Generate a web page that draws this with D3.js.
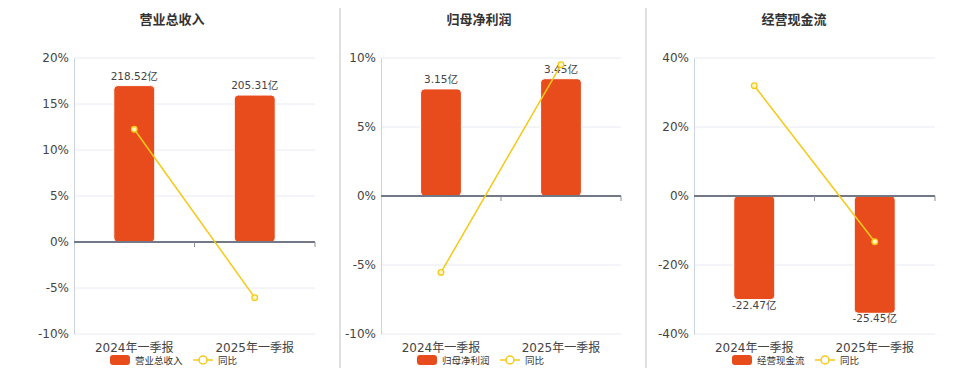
<!DOCTYPE html>
<html>
<head>
<meta charset="utf-8">
<script src="https://cdn.jsdelivr.net/npm/d3@7"></script>
<style>
  body { margin: 0; background: #fff; }
  svg { display: block; font-family: "DejaVu Sans", "Noto Sans CJK SC", sans-serif; }
</style>
</head>
<body>
<svg id="chart"></svg>
<script>
// categories shared by the three small charts
const categories = ["2024年一季报", "2025年一季报"];

// panel titles (also used as legend names)
const titles = ["营业总收入", "归母净利润", "经营现金流"];

// bar values, 亿元
const revenue = [218.52, 205.31];
const netProfit = [3.15, 3.45];
const cashFlow = [-22.47, -25.45];

// year-on-year growth, %
const revenueYoY = [12.25, -6.05];
const netProfitYoY = [-5.54, 9.51];
const cashFlowYoY = [31.97, -13.25];

// y axis tick values, %
const revenueTicks = [-10, -5, 0, 5, 10, 15, 20];
const netProfitTicks = [-10, -5, 0, 5, 10];
const cashFlowTicks = [-40, -20, 0, 20, 40];

const width = 960;
const height = 372;
const plotTop = 58;
const plotBottom = 334;

const barColor = "#e84c1d";
const lineColor = "#f5c917";

const svg = d3.select("#chart")
              .attr("width", width)
              .attr("height", height);

// panel layout: plot left/right and centre for title + legend
const panels = [
  { title: titles[0], bars: revenue, yoy: revenueYoY, ticks: revenueTicks, left: 74, right: 315, cx: 172 },
  { title: titles[1], bars: netProfit, yoy: netProfitYoY, ticks: netProfitTicks, left: 381, right: 621, cx: 479 },
  { title: titles[2], bars: cashFlow, yoy: cashFlowYoY, ticks: cashFlowTicks, left: 694, right: 935, cx: 794 }
];

// vertical separators between panels
[340, 646].forEach(x => {
  svg.append("line")
     .attr("x1", x).attr("x2", x)
     .attr("y1", 8).attr("y2", 368)
     .attr("stroke", "#d6d6d6")
     .attr("stroke-width", 1.5);
});

panels.forEach(p => {
  const g = svg.append("g");

  // percent scale for the yoy line and the axis
  const yScale = d3.scaleLinear()
                   .domain(d3.extent(p.ticks))
                   .range([plotBottom, plotTop]);
  const zeroY = yScale(0);

  // band scale for categories
  const xScale = d3.scaleBand()
                   .domain(categories)
                   .range([p.left, p.right]);
  const bw = xScale.bandwidth();
  const barW = bw * 0.34;
  const cx = d => xScale(d) + bw / 2;

  // hidden amount scale: largest bar fills 85% of its half of the plot
  const maxAbs = d3.max(p.bars, d => Math.abs(d));
  const positive = d3.max(p.bars) > 0;
  const barScale = d3.scaleLinear()
                     .domain([0, maxAbs / 0.85])
                     .range([zeroY, positive ? plotTop : plotBottom]);
  const barY = v => barScale(Math.abs(v));

  // title
  g.append("text")
   .attr("x", p.cx)
   .attr("y", 24)
   .attr("text-anchor", "middle")
   .attr("font-size", 13)
   .attr("font-weight", "bold")
   .attr("fill", "#333")
   .text(p.title);

  // gridlines
  g.selectAll(".grid")
   .data(p.ticks.filter(t => t !== 0))
   .enter()
   .append("line")
   .attr("x1", p.left).attr("x2", p.right)
   .attr("y1", d => yScale(d)).attr("y2", d => yScale(d))
   .attr("stroke", "#e6eaf3")
   .attr("stroke-width", 1);

  // y axis
  const yAxis = d3.axisLeft(yScale)
                  .tickValues(p.ticks)
                  .tickSize(0)
                  .tickPadding(5)
                  .tickFormat(d => d + "%");
  const ya = g.append("g")
              .attr("transform", `translate(${p.left}, 0)`)
              .call(yAxis);
  ya.select(".domain").attr("stroke", "#ccd3e3");
  ya.selectAll("text")
    .attr("font-size", 12)
    .attr("font-family", "DejaVu Sans, sans-serif")
    .attr("fill", "#444");

  // bars
  g.selectAll(".bar")
   .data(p.bars)
   .enter()
   .append("rect")
   .attr("x", (d, i) => cx(categories[i]) - barW / 2)
   .attr("y", d => d >= 0 ? barY(d) : zeroY)
   .attr("width", barW)
   .attr("height", d => Math.abs(barY(d) - zeroY))
   .attr("rx", 4)
   .attr("fill", barColor)
   .attr("stroke", "#fff")
   .attr("stroke-width", 1);

  // bar labels
  g.selectAll(".label")
   .data(p.bars)
   .enter()
   .append("text")
   .attr("x", (d, i) => cx(categories[i]))
   .attr("y", d => d >= 0 ? barY(d) - 6 : barY(d) + 9)
   .attr("text-anchor", "middle")
   .attr("font-size", 10.5)
   .attr("fill", "#444")
   .text(d => d.toFixed(2) + "亿");

  // zero axis with category ticks
  g.append("line")
   .attr("x1", p.left).attr("x2", p.right)
   .attr("y1", zeroY).attr("y2", zeroY)
   .attr("stroke", "#737886")
   .attr("stroke-width", 2);
  [p.left + bw, p.right].forEach(x => {
    g.append("line")
     .attr("x1", x).attr("x2", x)
     .attr("y1", zeroY).attr("y2", zeroY + 5)
     .attr("stroke", "#8a8f9c")
     .attr("stroke-width", 1);
  });

  // category labels
  g.selectAll(".cat")
   .data(categories)
   .enter()
   .append("text")
   .attr("x", d => cx(d))
   .attr("y", 352)
   .attr("text-anchor", "middle")
   .attr("font-size", 12)
   .attr("fill", "#444")
   .text(d => d);

  // yoy line
  const line = d3.line()
                 .x((d, i) => cx(categories[i]))
                 .y(d => yScale(d));
  g.append("path")
   .datum(p.yoy)
   .attr("d", line)
   .attr("fill", "none")
   .attr("stroke", lineColor)
   .attr("stroke-width", 1.5);
  g.selectAll(".pt")
   .data(p.yoy)
   .enter()
   .append("circle")
   .attr("cx", (d, i) => cx(categories[i]))
   .attr("cy", d => yScale(d))
   .attr("r", 2.8)
   .attr("fill", "#fff6c8")
   .attr("stroke", lineColor)
   .attr("stroke-width", 1.3);

  // legend
  const lg = g.append("g").attr("transform", `translate(${p.cx}, 360)`);
  lg.append("rect")
    .attr("x", -62).attr("y", -5)
    .attr("width", 20).attr("height", 10)
    .attr("rx", 3)
    .attr("fill", barColor);
  lg.append("text")
    .attr("x", -37).attr("y", 4)
    .attr("font-size", 9.5)
    .attr("fill", "#333")
    .text(p.title);
  lg.append("line")
    .attr("x1", 21).attr("x2", 41)
    .attr("y1", 0).attr("y2", 0)
    .attr("stroke", lineColor)
    .attr("stroke-width", 1.5);
  lg.append("circle")
    .attr("cx", 31).attr("cy", 0)
    .attr("r", 4)
    .attr("fill", "#fff")
    .attr("stroke", lineColor)
    .attr("stroke-width", 1.5);
  lg.append("text")
    .attr("x", 46).attr("y", 4)
    .attr("font-size", 9.5)
    .attr("fill", "#333")
    .text("同比");
});
</script>
</body>
</html>
